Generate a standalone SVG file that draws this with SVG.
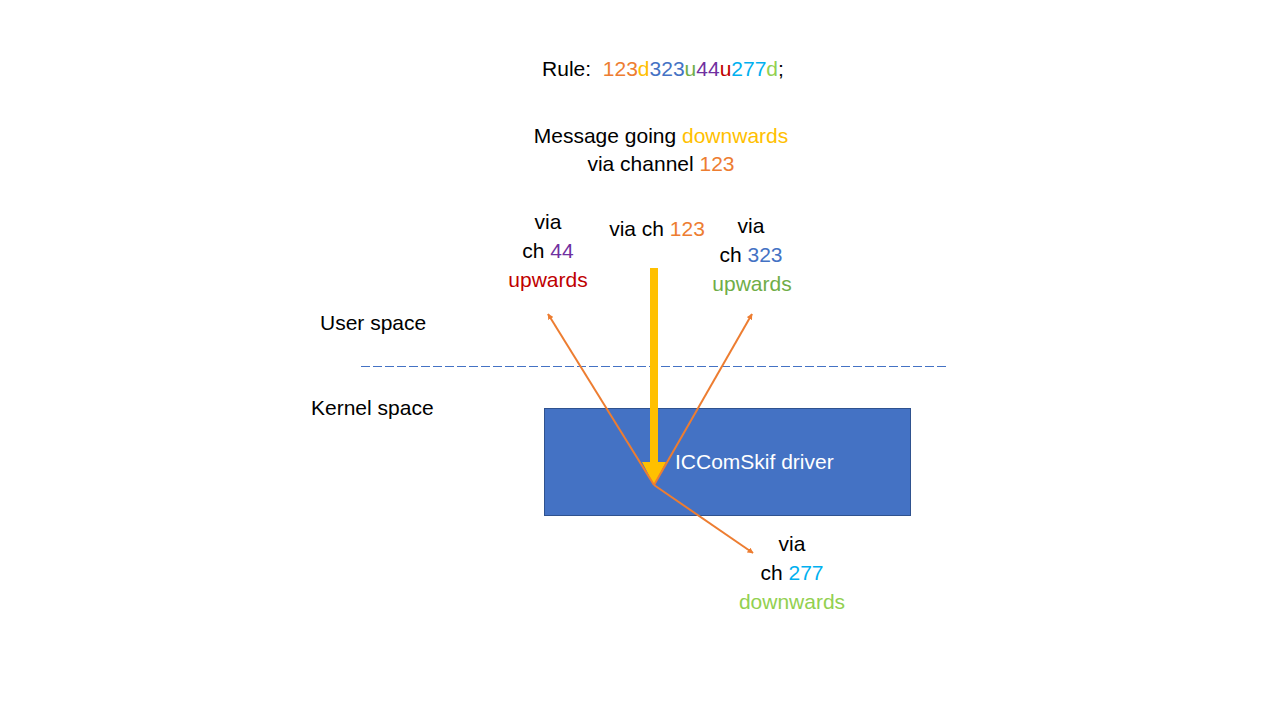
<svg xmlns="http://www.w3.org/2000/svg" width="1280" height="720" viewBox="0 0 1280 720">
<defs>
<style>
text{font-family:"Liberation Sans",Arial,sans-serif;font-size:21px;fill:#000}
.c{text-anchor:middle}
.or{fill:#ED7D31}.ye{fill:#FFC000}.bl{fill:#4472C4}.gr{fill:#70AD47}.pu{fill:#7030A0}.rd{fill:#C00000}.lb{fill:#00B0F0}.lg{fill:#92D050}
.conn{stroke:#ED7D31;stroke-width:2;fill:none}
</style>
<marker id="oa" viewBox="0 0 10 10" refX="9" refY="5" markerWidth="6" markerHeight="6" orient="auto" markerUnits="userSpaceOnUse">
<path d="M0,0 L10,5 L0,10 Z" fill="#ED7D31"/>
</marker>
</defs>
<rect width="1280" height="720" fill="#fff"/>
<g id="rule"><text x="663" y="76" class="c" xml:space="preserve">Rule:  <tspan class="or">123</tspan><tspan class="ye">d</tspan><tspan class="bl">323</tspan><tspan class="gr">u</tspan><tspan class="pu">44</tspan><tspan class="rd">u</tspan><tspan class="lb">277</tspan><tspan class="lg">d</tspan>;</text></g>
<g id="message"><text x="661" y="143" class="c">Message going <tspan class="ye">downwards</tspan></text><text x="661" y="171" class="c">via channel <tspan class="or">123</tspan></text></g>
<g id="boundary">
<line x1="361" y1="366.5" x2="948" y2="366.5" stroke="#4472C4" stroke-width="1" stroke-dasharray="9,3"/>
<text x="320" y="330">User space</text>
<text x="311" y="415">Kernel space</text>
</g>
<g id="driver">
<rect x="544.5" y="408.5" width="366" height="107" fill="#4472C4" stroke="#2F528F" stroke-width="1"/>
<text x="675" y="469" style="fill:#fff">ICComSkif driver</text>
</g>
<g id="label-in"><text x="657" y="236" class="c">via ch <tspan class="or">123</tspan></text></g>
<g id="label-44"><text x="548" y="229" class="c">via</text><text x="548" y="258" class="c">ch <tspan class="pu">44</tspan></text><text x="548" y="287" class="c rd">upwards</text></g>
<g id="label-323"><text x="751" y="233" class="c">via</text><text x="751" y="262" class="c">ch <tspan class="bl">323</tspan></text><text x="752" y="291" class="c gr">upwards</text></g>
<g id="label-277"><text x="792" y="551" class="c">via</text><text x="792" y="580" class="c">ch <tspan class="lb">277</tspan></text><text x="792" y="609" class="c lg">downwards</text></g>
<g id="connectors">
<path d="M650,268 H658 V462 H666 L654,485 L642,462 H650 Z" fill="#FFC000"/>
<line class="conn" x1="654" y1="485" x2="548" y2="314" marker-end="url(#oa)"/>
<line class="conn" x1="654" y1="485" x2="752" y2="314" marker-end="url(#oa)"/>
<line class="conn" x1="654" y1="485" x2="753" y2="553" marker-end="url(#oa)"/>
</g>
</svg>
